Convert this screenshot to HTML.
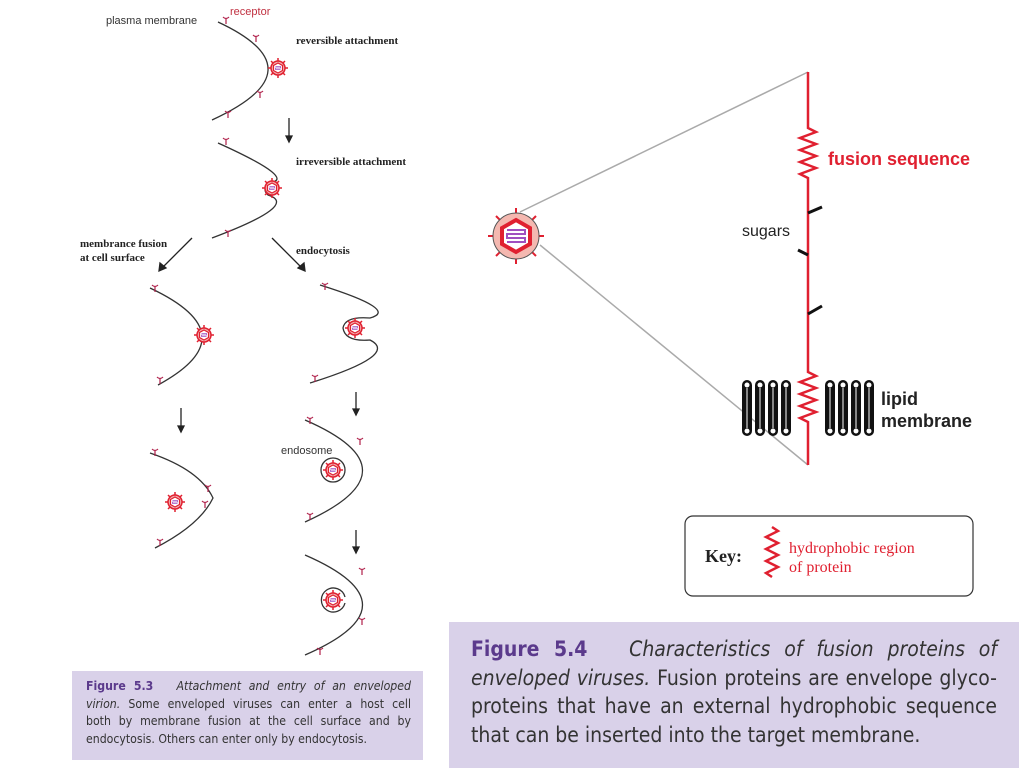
<!DOCTYPE html>
<html><head><meta charset="utf-8"><style>
body{margin:0;background:#fff;width:1024px;height:768px;overflow:hidden;position:relative;font-family:"Liberation Sans",sans-serif}
.cap{position:absolute;background:#d9d1e9;color:#333;font-family:"DejaVu Sans Condensed","DejaVu Sans",sans-serif;box-sizing:border-box}
.cap b{color:#5b3a8c;font-weight:bold}
.cap div{text-align:justify;text-align-last:justify;white-space:nowrap}
.cap div.l{text-align-last:left}
</style></head><body>
<svg width="1024" height="768" style="position:absolute;left:0;top:0">
<defs>
<g id="v">
<g stroke="#e02030" stroke-width="1.5"><line x1="0" y1="-10" x2="0" y2="10"/><line x1="-10" y1="0" x2="10" y2="0"/><line x1="-7" y1="-7" x2="7" y2="7"/><line x1="-7" y1="7" x2="7" y2="-7"/></g>
<circle r="7" fill="#f3b0b0" stroke="#e02030" stroke-width="1.5"/>
<polygon points="0,-5 4.5,-2.5 4.5,2.5 0,5 -4.5,2.5 -4.5,-2.5" fill="#fff" stroke="#e02030" stroke-width="1.2"/>
<path d="M-2.5,-1.5h5v1.5h-5v1.5h5" stroke="#a050c0" fill="none" stroke-width="0.8"/>
</g>
<g id="r" stroke="#b0204a" stroke-width="1.2" fill="none"><path d="M0,0 l0,-5 M-3,-7 q3,3 6,0"/></g>
<g id="lp"><rect x="0" y="0" width="10" height="56" rx="5" fill="#111"/><line x1="5" y1="8" x2="5" y2="48" stroke="#fff" stroke-width="1"/><circle cx="5" cy="5" r="2.5" fill="#fff"/><circle cx="5" cy="51" r="2.5" fill="#fff"/></g>
</defs>
<g fill="none" stroke="#333" stroke-width="1.3">
<path d="M218,22 Q321,70 212,120"/>
<path d="M218,143 Q300,180 268,183 Q262,190 268,195 Q300,205 212,238"/>
<path d="M150,288 Q250,335 158,385"/>
<path d="M320,285 Q400,310 370,318 Q345,316 343,328 Q345,342 370,340 Q400,355 310,383"/>
<path d="M150,453 Q200,470 213,498 Q200,525 155,548"/>
<path d="M305,420 Q420,470 305,522"/>
<path d="M305,555 Q420,605 305,655"/>
<circle cx="333" cy="470" r="12"/>
<path d="M345,603 A12,12 0 1 1 345,597"/>
</g>
<g stroke="#222" stroke-width="1.3" fill="#222">
<line x1="289" y1="118" x2="289" y2="138"/><path d="M286,136 L289,142 L292,136Z"/>
<line x1="192" y1="238" x2="162" y2="268"/><path d="M160,263 L159,271 L166,268Z"/>
<line x1="272" y1="238" x2="302" y2="268"/><path d="M298,268 L305,271 L304,263Z"/>
<line x1="181" y1="408" x2="181" y2="428"/><path d="M178,426 L181,432 L184,426Z"/>
<line x1="356" y1="392" x2="356" y2="411"/><path d="M353,409 L356,415 L359,409Z"/>
<line x1="356" y1="530" x2="356" y2="549"/><path d="M353,547 L356,553 L359,547Z"/>
</g>
<use href="#v" x="278" y="68"/><use href="#v" x="272" y="188"/><use href="#v" x="204" y="335"/>
<use href="#v" x="355" y="328"/><use href="#v" x="175" y="502"/><use href="#v" x="333" y="470"/><use href="#v" x="333" y="600"/>
<use href="#r" x="226" y="24"/><use href="#r" x="256" y="42"/><use href="#r" x="260" y="98"/><use href="#r" x="228" y="118"/>
<use href="#r" x="226" y="145"/><use href="#r" x="228" y="237"/><use href="#r" x="155" y="292"/><use href="#r" x="160" y="384"/>
<use href="#r" x="325" y="290"/><use href="#r" x="315" y="382"/><use href="#r" x="155" y="456"/><use href="#r" x="160" y="546"/>
<use href="#r" x="208" y="492"/><use href="#r" x="205" y="508"/><use href="#r" x="310" y="424"/><use href="#r" x="360" y="445"/><use href="#r" x="310" y="520"/>
<use href="#r" x="362" y="575"/><use href="#r" x="362" y="625"/><use href="#r" x="320" y="655"/>
<g font-size="11" fill="#333"><text x="106" y="24">plasma membrane</text><text x="281" y="454">endosome</text></g>
<text x="230" y="15" font-size="11" fill="#c03040">receptor</text>
<g font-family="Liberation Serif,serif" font-weight="bold" font-size="11" fill="#222">
<text x="296" y="44">reversible attachment</text><text x="296" y="165">irreversible attachment</text>
<text x="80" y="247">membrance fusion</text><text x="80" y="261">at cell surface</text><text x="296" y="254">endocytosis</text></g>
<g stroke="#aaa" stroke-width="1.5"><line x1="520" y1="212" x2="808" y2="72"/><line x1="540" y1="245" x2="808" y2="465"/></g>
<g transform="translate(516,236)">
<g stroke="#e02030" stroke-width="2"><line x1="0" y1="-28" x2="0" y2="28"/><line x1="-28" y1="0" x2="28" y2="0"/><line x1="-20" y1="-20" x2="20" y2="20"/><line x1="-20" y1="20" x2="20" y2="-20"/></g>
<circle r="23" fill="#f4b8b0" stroke="#555" stroke-width="1"/>
<polygon points="0,-16 14,-8 14,8 0,16 -14,8 -14,-8" fill="#fff" stroke="#e02030" stroke-width="4"/>
<path d="M-9,-6h18v4h-18v4h18v4h-18" stroke="#a050c0" fill="none" stroke-width="2"/>
</g>
<use href="#lp" x="742" y="380"/><use href="#lp" x="755" y="380"/><use href="#lp" x="768" y="380"/><use href="#lp" x="781" y="380"/>
<use href="#lp" x="825" y="380"/><use href="#lp" x="838" y="380"/><use href="#lp" x="851" y="380"/><use href="#lp" x="864" y="380"/>
<g stroke="#e02030" stroke-width="2.5" fill="none">
<path d="M808,72 V128 l8,4 -16,6 16,6 -16,6 16,6 -16,6 16,6 -16,6 8,4 V372 l8,4 -16,6 16,6 -16,6 16,6 -16,6 16,6 -16,6 8,4 V465"/>
<path d="M772,527 l6,4 -12,6 12,6 -12,6 12,6 -12,6 12,6 -12,6 6,4"/>
</g>
<g stroke="#111" stroke-width="3"><line x1="808" y1="213" x2="822" y2="207"/><line x1="808" y1="255" x2="798" y2="250"/><line x1="808" y1="314" x2="822" y2="306"/></g>
<text x="828" y="165" font-size="18" font-weight="bold" fill="#e02030">fusion sequence</text>
<text x="742" y="236" font-size="16" fill="#222">sugars</text>
<text x="881" y="405" font-size="18" font-weight="bold" fill="#222">lipid</text><text x="881" y="427" font-size="18" font-weight="bold" fill="#222">membrane</text>
<rect x="685" y="516" width="288" height="80" rx="8" fill="none" stroke="#333" stroke-width="1.2"/>
<text x="705" y="562" font-family="Liberation Serif,serif" font-weight="bold" font-size="18" fill="#222">Key:</text>
<g font-family="Liberation Serif,serif" font-size="16" fill="#e02030"><text x="789" y="553">hydrophobic region</text><text x="789" y="572">of protein</text></g>
</svg>
<div class="cap" style="left:72px;top:671px;width:351px;height:89px;padding:7px 12px 0 14px;font-size:12.2px;line-height:17.7px">
<div><b>Figure 5.3</b>&nbsp;&nbsp; <i>Attachment and entry of an enveloped</i></div>
<div><i>virion.</i> Some enveloped viruses can enter a host cell</div>
<div>both by membrane fusion at the cell surface and by</div>
<div class="l">endocytosis. Others can enter only by endocytosis.</div>
</div>
<div class="cap" style="left:449px;top:622px;width:570px;height:146px;padding:13px 22px 0 22px;font-size:21px;line-height:28.5px">
<div><b>Figure 5.4</b>&nbsp;&nbsp; <i>Characteristics of fusion proteins of</i></div>
<div><i>enveloped viruses.</i> Fusion proteins are envelope glyco-</div>
<div>proteins that have an external hydrophobic sequence</div>
<div class="l">that can be inserted into the target membrane.</div>
</div>
</body></html>
